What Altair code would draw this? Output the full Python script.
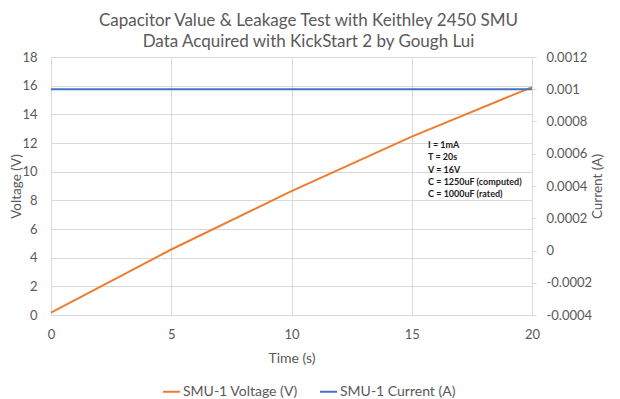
import altair as alt
import pandas as pd

# ---- data ----
time_s = [0, 5, 10, 15, 20]
voltage_v = [0.16, 4.57, 8.64, 12.45, 15.9]
current_a = [0.001, 0.001, 0.001, 0.001, 0.001]

series_names = ["SMU-1 Voltage (V)", "SMU-1 Current (A)"]
series_colors = ["#ED7D31", "#4472C4"]

volt_ticks = [0, 2, 4, 6, 8, 10, 12, 14, 16, 18]
curr_ticks = [-0.0004, -0.0002, 0, 0.0002, 0.0004, 0.0006, 0.0008, 0.001, 0.0012]
time_ticks = [0, 5, 10, 15, 20]

note_lines = ["I = 1mA", "T = 20s", "V = 16V", "C = 1250uF (computed)", "C = 1000uF (rated)"]
note_time = [15.68]
note_volt = [12.15]

FONT = "Lato"
GREY = "#595959"
GRID = "#d9d9d9"

volt_df = pd.DataFrame({"t": time_s, "v": voltage_v, "s": series_names[0]})
curr_df = pd.DataFrame({"t": time_s, "i": current_a, "s": series_names[1]})
note_df = pd.DataFrame({"t": note_time, "v": note_volt, "txt": ["\n".join(note_lines)]})

x_enc = alt.X("t:Q", scale=alt.Scale(domain=[0, 20], nice=False),
              axis=alt.Axis(values=time_ticks, title="Time (s)", grid=True, gridColor=GRID,
                            domainColor=GRID, ticks=False, labelPadding=13, labelFlush=False,
                            labelFontSize=13, labelColor=GREY, labelFont=FONT,
                            titleFont=FONT, titleFontSize=14, titleColor=GREY,
                            titleFontWeight="normal", titlePadding=10))

volt_scale = alt.Scale(domain=[0, 18], nice=False)
volt_axis = alt.Axis(values=volt_ticks, title="Voltage (V)", grid=True, gridColor=GRID,
                     domain=False, ticks=False, labelPadding=14, labelFontSize=13,
                     labelColor=GREY, labelFont=FONT, titleFont=FONT, titleFontSize=13.5,
                     titleColor=GREY, titleFontWeight="normal",
                     titleX=-35, titleY=129, titleAngle=270, titleAlign="center",
                     titleBaseline="middle")

color_enc = alt.Color("s:N", scale=alt.Scale(domain=series_names, range=series_colors),
                      legend=alt.Legend(title=None, orient="none", direction="horizontal",
                                        legendX=111, legendY=325, symbolType="stroke",
                                        symbolSize=289, symbolStrokeWidth=2,
                                        labelFont=FONT, labelFontSize=14, labelColor=GREY,
                                        labelOffset=2, columnPadding=18))

volt_line = alt.Chart(volt_df).mark_line(strokeWidth=2).encode(
    x=x_enc,
    y=alt.Y("v:Q", scale=volt_scale, axis=volt_axis),
    color=color_enc,
)

note = alt.Chart(note_df).mark_text(
    align="left", baseline="top", lineBreak="\n", lineHeight=12.4,
    font=FONT, fontSize=9, fontWeight="bold", color="#1a1a1a"
).encode(
    x=alt.X("t:Q"),
    y=alt.Y("v:Q", scale=volt_scale, axis=volt_axis),
    text="txt:N",
)

curr_line = alt.Chart(curr_df).mark_line(strokeWidth=2).encode(
    x=x_enc,
    y=alt.Y("i:Q", scale=alt.Scale(domain=[-0.0004, 0.0012], nice=False),
            axis=alt.Axis(values=curr_ticks, orient="right", title="Current (A)",
                          grid=False, domainColor=GRID, tickColor=GRID, tickSize=4,
                          labelPadding=10, labelFontSize=13, labelColor=GREY,
                          labelFont=FONT, labelExpr="'' + datum.value",
                          titleFont=FONT, titleFontSize=13.5, titleColor=GREY,
                          titleFontWeight="normal", titleAngle=270,
                          titleX=65, titleY=129, titleAlign="center",
                          titleBaseline="middle")),
    color=color_enc,
)

chart = alt.layer(alt.layer(volt_line, note), curr_line).resolve_scale(
    y="independent"
).properties(
    width=481,
    height=258,
    autosize=alt.AutoSizeParams(type="none"),
    padding={"left": 43, "top": 49, "right": 80, "bottom": 84},
    title=alt.Title(
        text=["Capacitor Value & Leakage Test with Keithley 2450 SMU",
              "Data Acquired with KickStart 2 by Gough Lui"],
        font=FONT, fontSize=17, fontWeight="normal", color=GREY,
        lineHeight=21, anchor="middle", dx=17, offset=0,
    ),
).configure_view(stroke=None).configure(background="white")

chart.save("out.html", embed_options={"renderer": "svg", "actions": False})
